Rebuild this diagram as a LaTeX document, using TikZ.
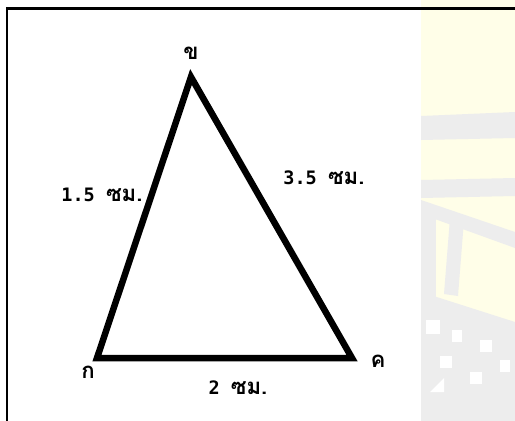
\documentclass[tikz,border=0pt]{standalone}
\usepackage{fontspec}
\setmainfont{DejaVu Sans Mono}
\newfontfamily\thaifont[Script=Thai,Scale=1.2]{Loma}
\begin{document}
\begin{tikzpicture}[x=1pt,y=-1pt,
  lbl/.style={font=\bfseries\fontsize{18.5}{20}\selectfont, inner sep=0pt, anchor=center},
  side/.style={line width=6.5pt, line join=miter, line cap=rect},
  frameline/.style={line width=2.6pt},
  wmgray/.style={fill=black!7, draw=none},
  wmyellow/.style={fill=yellow!9, draw=none}]
\useasboundingbox (0,0) rectangle (515,421);
\fill[white] (0,0) rectangle (515,421);
% watermark (right strip)
\fill[wmyellow] (421,0) rectangle (515,421);
\fill[wmgray] (421,116) -- (515,112) -- (515,138) -- (421,140) -- cycle;
\fill[wmgray] (421,180) -- (515,178) -- (515,196) -- (421,198) -- cycle;
\fill[wmgray] (421,200) -- (515,232) -- (515,248) -- (421,214) -- cycle;
\fill[wmgray] (421,214) rectangle (436,300);
\fill[wmgray] (450,218) -- (464,220) -- (458,296) -- (444,294) -- cycle;
\fill[wmgray] (421,292) -- (515,322) -- (515,421) -- (421,421) -- cycle;
\fill[white] (426,320) rectangle (440,334);
\fill[white] (452,330) rectangle (462,342);
\fill[white] (480,340) rectangle (492,352);
\fill[white] (440,356) rectangle (452,368);
\fill[white] (470,372) rectangle (482,384);
\fill[white] (500,360) rectangle (510,372);
\fill[white] (430,392) -- (444,378) -- (444,392) -- cycle;
% frame
\draw[frameline] (7,421) -- (7,8.5) -- (515,8.5);
% triangle
\coordinate (A) at (97,358);
\coordinate (B) at (191,77);
\coordinate (C) at (352,358);
\draw[side] (A) -- (B) -- (C) -- cycle;
% vertex labels
\node[lbl] (la) at (88,372) {\thaifont ก};
\node[lbl] (lb) at (191,53) {\thaifont ข};
\node[lbl] (lc) at (378,361) {\thaifont ค};
% side labels
\node[lbl] (sab) at (102,195) {1.5 {\thaifont ซม.}};
\node[lbl] (sbc) at (324,178) {3.5 {\thaifont ซม.}};
\node[lbl] (sac) at (238,388) {2 {\thaifont ซม.}};
\end{tikzpicture}
\end{document}
